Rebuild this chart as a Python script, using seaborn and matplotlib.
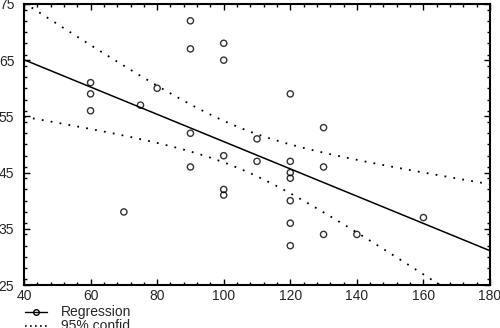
import numpy as np
import pandas as pd
import matplotlib
matplotlib.use("Agg")
import matplotlib.pyplot as plt
import seaborn as sns
from matplotlib.lines import Line2D
from matplotlib.ticker import MultipleLocator

# ---- data ----
x_vals = [60, 60, 60, 75, 80, 90, 90, 90, 90, 100, 100, 100, 100, 100, 70,
          110, 110, 120, 120, 120, 120, 120, 120, 120, 130, 130, 130, 140, 160]
y_vals = [61, 59, 56, 57, 60, 72, 67, 52, 46, 68, 65, 48, 42, 41, 38,
          51, 47, 59, 47, 45, 44, 40, 36, 32, 53, 46, 34, 34, 37]
x_ticks = [40, 60, 80, 100, 120, 140, 160, 180]
y_ticks = [25, 35, 45, 55, 65, 75]
legend_labels = ["Regression", "95% confid."]

df = pd.DataFrame({"x": x_vals, "y": y_vals})

sns.set_theme(style="white")
plt.rcParams["font.family"] = ["Liberation Sans", "DejaVu Sans"]

fig = plt.figure(figsize=(5.0, 3.28), dpi=100)
ax = fig.add_axes([0.048, 0.131, 0.932, 0.857])
ax.set_xlim(x_ticks[0], x_ticks[-1])
ax.set_ylim(y_ticks[0], y_ticks[-1])

# regression line across the full x range
sns.regplot(data=df, x="x", y="y", ax=ax, ci=None, truncate=False,
            scatter_kws=dict(marker="o", s=20, facecolors="none",
                             edgecolors="black", linewidths=1.0),
            line_kws=dict(color="black", lw=1.1))

# analytic 95% confidence band for the mean
xa = np.asarray(x_vals, float)
ya = np.asarray(y_vals, float)
n = len(xa)
b, a = np.polyfit(xa, ya, 1)
resid = ya - (a + b * xa)
s = np.sqrt(np.sum(resid ** 2) / (n - 2))
sxx = np.sum((xa - xa.mean()) ** 2)
t = 2.052
xg = np.linspace(x_ticks[0], x_ticks[-1], 200)
yhat = a + b * xg
hw = t * s * np.sqrt(1.0 / n + (xg - xa.mean()) ** 2 / sxx)
ax.plot(xg, yhat + hw, color="black", lw=1.3, linestyle=(0, (1, 4)))
ax.plot(xg, yhat - hw, color="black", lw=1.3, linestyle=(0, (1, 4)))

ax.set_xlim(x_ticks[0], x_ticks[-1])
ax.set_ylim(y_ticks[0], y_ticks[-1])
ax.set_xticks(x_ticks)
ax.set_yticks(y_ticks)
ax.xaxis.set_minor_locator(MultipleLocator(4))
ax.yaxis.set_minor_locator(MultipleLocator(2))
ax.set_xlabel("")
ax.set_ylabel("")
for sp in ax.spines.values():
    sp.set_color("black")
    sp.set_linewidth(1.5)
ax.tick_params(which="both", direction="in", top=True, right=True,
               bottom=True, left=True, color="black")
ax.tick_params(which="major", length=4, width=1)
ax.tick_params(which="minor", length=2.5, width=1)
ax.tick_params(axis="x", which="major", labelsize=10, pad=3)
ax.tick_params(axis="y", which="major", labelsize=10, pad=7)

handles = [Line2D([0], [0], color="black", lw=1, marker="o", markersize=4,
                  markerfacecolor="none", markeredgecolor="black"),
           Line2D([0], [0], color="black", lw=1.2, linestyle=(0, (1, 2)))]
fig.legend(handles, legend_labels, loc="upper left",
           bbox_to_anchor=(0.05, 0.069), frameon=False, fontsize=10,
           handlelength=1.6, handletextpad=1.0, labelspacing=0.0,
           borderpad=0, borderaxespad=0)

fig.savefig("out.png", dpi=100)
